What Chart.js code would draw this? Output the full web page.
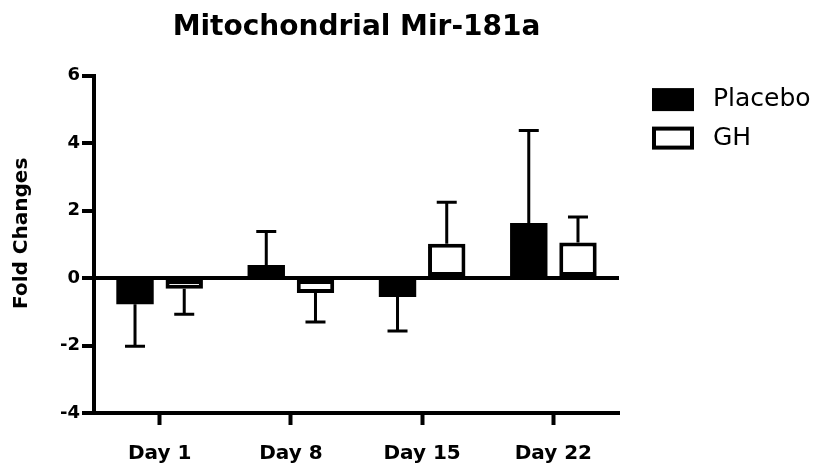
<!DOCTYPE html>
<html>
<head>
<meta charset="utf-8">
<script src="https://cdn.jsdelivr.net/npm/chart.js@4.4.1/dist/chart.umd.min.js"></script>
<style>
  html, body { margin: 0; padding: 0; background: #fff; }
  #wrap { width: 818px; height: 470px; }
</style>
</head>
<body>
<div id="wrap"><canvas id="c" width="818" height="470"></canvas></div>
<script>
const categories = ['Day 1', 'Day 8', 'Day 15', 'Day 22'];
const seriesNames = ['Placebo', 'GH'];
const placeboValues = [-0.78, 0.39, -0.56, 1.63];
const placeboErrors = [1.24, 0.99, 1.01, 2.74];
const ghValues = [-0.32, -0.44, 1.02, 1.05];
const ghErrors = [0.75, 0.86, 1.23, 0.76];
const yTicks = [-4, -2, 0, 2, 4, 6];
const chartTitle = 'Mitochondrial Mir-181a';
const yTitle = 'Fold Changes';

const errorArrays = [placeboErrors, ghErrors];
const FONT = "'DejaVu Sans', 'Liberation Sans', Arial, sans-serif";

const errorBars = {
  id: 'errorBars',
  afterDatasetsDraw(chart) {
    const ctx = chart.ctx;
    const yScale = chart.scales.y;
    chart.data.datasets.forEach((ds, di) => {
      const meta = chart.getDatasetMeta(di);
      meta.data.forEach((bar, i) => {
        const v = ds.data[i];
        const e = errorArrays[di][i];
        const dir = v < 0 ? -1 : 1;
        const end = yScale.getPixelForValue(v + dir * e);
        ctx.save();
        ctx.strokeStyle = '#000';
        ctx.lineWidth = 3;
        ctx.lineCap = 'butt';
        ctx.beginPath();
        ctx.moveTo(bar.x, bar.y);
        ctx.lineTo(bar.x, end);
        ctx.moveTo(bar.x - 10, end);
        ctx.lineTo(bar.x + 10, end);
        ctx.stroke();
        ctx.restore();
      });
    });
  }
};

const sideLegend = {
  id: 'sideLegend',
  afterDraw(chart) {
    const { ctx, chartArea } = chart;
    const boxX = chartArea.right + 35;
    chart.data.datasets.forEach((ds, i) => {
      const yc = chartArea.top + 24 + i * 38.5;
      ctx.save();
      ctx.fillStyle = ds.backgroundColor;
      ctx.strokeStyle = '#000';
      ctx.lineWidth = 4;
      ctx.fillRect(boxX, yc - 9.5, 38, 19);
      ctx.strokeRect(boxX, yc - 9.5, 38, 19);
      ctx.fillStyle = '#000';
      ctx.font = "25px " + FONT;
      ctx.textBaseline = 'middle';
      ctx.textAlign = 'left';
      ctx.fillText(ds.label, boxX + 59, yc);
      ctx.restore();
    });
  }
};

const yAxisTitle = {
  id: 'yAxisTitle',
  afterDraw(chart) {
    const { ctx, chartArea } = chart;
    const yc = (chartArea.top + chartArea.bottom) / 2 - 11;
    ctx.save();
    ctx.translate(22, yc);
    ctx.rotate(-Math.PI / 2);
    ctx.fillStyle = '#000';
    ctx.font = "bold 20px " + FONT;
    ctx.textAlign = 'center';
    ctx.textBaseline = 'middle';
    ctx.fillText(yTitle, 0, 0);
    ctx.restore();
  }
};

new Chart(document.getElementById('c'), {
  type: 'bar',
  data: {
    labels: categories,
    datasets: [
      {
        label: seriesNames[0],
        data: placeboValues,
        backgroundColor: '#000000',
        borderWidth: 0,
        categoryPercentage: 0.75,
        barPercentage: 0.76
      },
      {
        label: seriesNames[1],
        data: ghValues,
        backgroundColor: '#ffffff',
        borderColor: '#000000',
        borderWidth: 4,
        borderSkipped: false,
        categoryPercentage: 0.75,
        barPercentage: 0.76
      }
    ]
  },
  options: {
    responsive: false,
    animation: false,
    layout: { padding: { left: 0, right: 199, top: 0, bottom: 0 } },
    plugins: {
      legend: { display: false },
      tooltip: { enabled: false },
      title: {
        display: true,
        text: chartTitle,
        fullSize: false,
        color: '#000',
        font: { family: FONT, size: 28, weight: 'bold' },
        padding: { top: 11, bottom: 31 }
      }
    },
    scales: {
      x: {
        offset: true,
        grid: {
          display: true,
          drawOnChartArea: false,
          offset: false,
          tickLength: 12,
          tickWidth: 4,
          tickColor: '#000'
        },
        border: { display: true, color: '#000', width: 4 },
        ticks: {
          color: '#000',
          padding: 17,
          font: { family: FONT, size: 20, weight: 'bold' },
          maxRotation: 0
        },
        afterFit(scale) { scale.height = 57; }
      },
      y: {
        min: yTicks[0],
        max: yTicks[yTicks.length - 1],
        afterBuildTicks(scale) { scale.ticks = yTicks.map(v => ({ value: v })); },
        grid: {
          drawOnChartArea: true,
          color: (c) => (c.tick && c.tick.value === 0 ? '#000' : 'rgba(0,0,0,0)'),
          lineWidth: 4,
          tickLength: 12,
          tickWidth: 4,
          tickColor: '#000'
        },
        border: { display: true, color: '#000', width: 4 },
        ticks: {
          color: '#000',
          padding: 2,
          font: { family: FONT, size: 18, weight: 'bold' }
        },
        title: { display: false },
        afterFit(scale) { scale.width = 94; }
      }
    }
  },
  plugins: [errorBars, sideLegend, yAxisTitle]
});
</script>
</body>
</html>
